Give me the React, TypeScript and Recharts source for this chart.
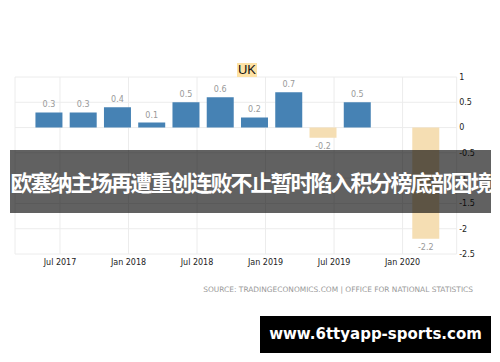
import React from 'react';
import { ComposedChart, Bar, XAxis, YAxis, CartesianGrid, Cell, LabelList } from 'recharts';

// months counted from Jan 2017 (bars placed at quarter-end months)
const quarterMonths = [5, 8, 11, 14, 17, 20, 23, 26, 29, 32, 35, 38];
const quarters = ['Q2 2017', 'Q3 2017', 'Q4 2017', 'Q1 2018', 'Q2 2018', 'Q3 2018', 'Q4 2018', 'Q1 2019', 'Q2 2019', 'Q3 2019', 'Q4 2019', 'Q1 2020'];
const gdpGrowth = [0.3, 0.3, 0.4, 0.1, 0.5, 0.6, 0.2, 0.7, -0.2, 0.5, 0, -2.2];
const tickMonths = [6, 12, 18, 24, 30, 36];
const tickLabels = ['Jul 2017', 'Jan 2018', 'Jul 2018', 'Jan 2019', 'Jul 2019', 'Jan 2020'];
const yTicks = [-2.5, -2, -1.5, -1, -0.5, 0, 0.5, 1];

const data = quarterMonths.map((m, i) => ({ month: m, quarter: quarters[i], value: gdpGrowth[i] }));

const POS = '#4682B4';
const NEG = '#F5DEB3';

const renderLabel = (props: any) => {
  const { x, y, width, height, value } = props;
  const top = Math.min(y, y + height);
  const bottom = Math.max(y, y + height);
  const cx = x + width / 2;
  const neg = value < 0;
  return (
    <text x={cx} y={neg ? bottom + 11.5 : top - 5} textAnchor="middle" fontSize={8} fill="#999" fontFamily="DejaVu Sans">
      {value}
    </text>
  );
};

export default function App() {
  return (
    <div style={{ position: 'fixed', left: 0, top: 0, width: 500, height: 362, background: '#fff', overflow: 'hidden' }}>
      <div style={{ position: 'absolute', left: 0, top: 0 }}>
        <ComposedChart width={500} height={362} data={data} margin={{ top: 77, right: 3.3, bottom: 88, left: 15 }}>
          <CartesianGrid stroke="#ececec" strokeWidth={1} />
          <XAxis
            dataKey="month"
            type="number"
            domain={[2.06, 40.74]}
            allowDataOverflow
            ticks={tickMonths}
            tickFormatter={(v: number) => tickLabels[tickMonths.indexOf(v)] ?? ''}
            axisLine={false}
            tickLine={false}
            tickSize={0}
            tickMargin={5.6}
            height={20}
            tick={{ fontSize: 8, fill: '#222', fontFamily: 'DejaVu Sans' }}
          />
          <YAxis
            orientation="right"
            domain={[-2.5, 1]}
            ticks={yTicks}
            axisLine={false}
            tickLine={false}
            tickSize={0}
            tickMargin={2.5}
            width={40}
            tick={{ fontSize: 8, fill: '#222', fontFamily: 'DejaVu Sans' }}
          />
          <Bar dataKey="value" barSize={27} isAnimationActive={false}>
            {data.map((d, i) => (
              <Cell key={i} fill={d.value < 0 ? NEG : POS} />
            ))}
            <LabelList dataKey="value" content={renderLabel} />
          </Bar>
        </ComposedChart>
      </div>
      <div style={{ position: 'absolute', left: 237, top: 63, width: 20, height: 14, background: '#FDE2A5', color: '#111', fontFamily: 'Liberation Sans', fontSize: 13, lineHeight: '14px', textAlign: 'center' }}>
        UK
      </div>
      <div style={{ position: 'absolute', right: 27, top: 285, fontFamily: 'DejaVu Sans', fontSize: 7.45, color: '#999', whiteSpace: 'nowrap', lineHeight: '10px' }}>
        SOURCE: TRADINGECONOMICS.COM | OFFICE FOR NATIONAL STATISTICS
      </div>
      <div style={{ position: 'absolute', left: 10, top: 150, width: 481, height: 63, background: 'rgba(0,0,0,0.62)', color: '#fff', fontFamily: '"Noto Sans CJK SC"', fontWeight: 'bold', fontSize: 22, letterSpacing: '-2px', lineHeight: '63px', textAlign: 'center', whiteSpace: 'nowrap' }}>
        欧塞纳主场再遭重创连败不止暂时陷入积分榜底部困境
      </div>
      <div style={{ position: 'absolute', left: 260, top: 316, width: 231, height: 37, background: '#000', color: '#fff', fontFamily: 'DejaVu Sans', fontWeight: 'bold', fontSize: 15, lineHeight: '37px', textAlign: 'center', whiteSpace: 'nowrap' }}>
        www.6ttyapp-sports.com
      </div>
    </div>
  );
}
